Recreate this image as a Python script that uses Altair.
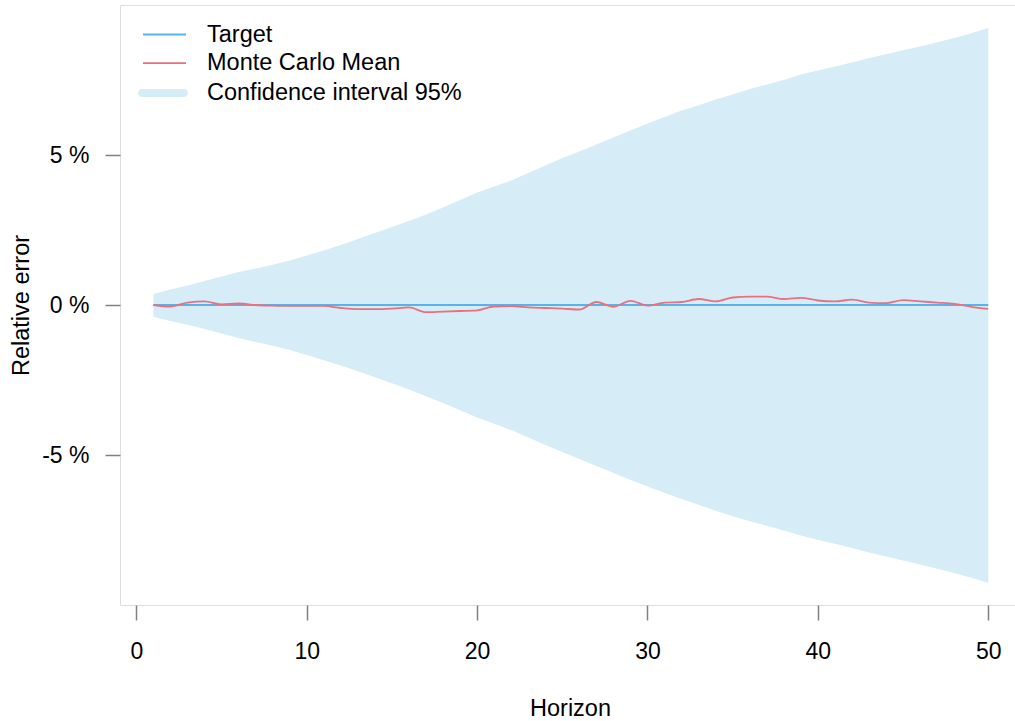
import altair as alt
import pandas as pd

horizon = list(range(1, 51))

upper = [0.37, 0.52, 0.65, 0.80, 0.95, 1.10, 1.22, 1.34, 1.48, 1.65,
         1.82, 2.00, 2.20, 2.40, 2.60, 2.80, 3.02, 3.25, 3.50, 3.75,
         3.95, 4.15, 4.40, 4.65, 4.90, 5.12, 5.35, 5.58, 5.82, 6.05,
         6.27, 6.48, 6.66, 6.85, 7.02, 7.20, 7.35, 7.50, 7.68, 7.82,
         7.95, 8.08, 8.23, 8.36, 8.49, 8.62, 8.76, 8.90, 9.06, 9.23]

lower = [-0.39, -0.53, -0.66, -0.80, -0.95, -1.10, -1.23, -1.36, -1.50, -1.67,
         -1.84, -2.02, -2.21, -2.41, -2.61, -2.82, -3.04, -3.27, -3.51, -3.75,
         -3.96, -4.17, -4.42, -4.67, -4.90, -5.13, -5.37, -5.60, -5.83, -6.05,
         -6.26, -6.47, -6.66, -6.86, -7.04, -7.21, -7.36, -7.52, -7.68, -7.83,
         -7.96, -8.10, -8.25, -8.38, -8.52, -8.65, -8.79, -8.93, -9.09, -9.26]

mc_mean = [0.00, -0.05, 0.08, 0.12, 0.02, 0.05, 0.00, -0.02, -0.03, -0.03,
           -0.03, -0.10, -0.14, -0.14, -0.12, -0.08, -0.24, -0.22, -0.20, -0.18,
           -0.05, -0.04, -0.08, -0.10, -0.12, -0.15, 0.10, -0.06, 0.14, -0.02,
           0.08, 0.10, 0.20, 0.12, 0.25, 0.28, 0.28, 0.20, 0.24, 0.15,
           0.12, 0.18, 0.08, 0.06, 0.16, 0.12, 0.08, 0.04, -0.06, -0.13]

target = [0.0] * 50

target_name, target_color = "Target", "#56B4E9"
mean_name, mean_color = "Monte Carlo Mean", "#EB6F7F"
band_name, band_color = "Confidence interval 95%", "#D6EDF7"

band_df = pd.DataFrame({"h": horizon, "lo": lower, "hi": upper, "series": band_name})
target_df = pd.DataFrame({"h": horizon, "v": target, "series": target_name})
mean_df = pd.DataFrame({"h": horizon, "v": mc_mean, "series": mean_name})

FONT = "Liberation Sans"
GRAY = "#808080"
TICK_FS = 23
TEXT_FS = 23.5

xscale = alt.Scale(domain=[-0.96, 51.57], nice=False, zero=False)
yscale = alt.Scale(domain=[-10, 10], nice=False, zero=False)

xaxis = alt.Axis(values=[0, 10, 20, 30, 40, 50], title="Horizon", grid=False,
                 domain=False, tickColor=GRAY, tickWidth=1.5, tickSize=15,
                 labelPadding=20, labelFont=FONT, labelFontSize=TICK_FS,
                 labelColor="black", titleFont=FONT, titleFontSize=TEXT_FS,
                 titleFontWeight="normal", titleColor="black",
                 titleX=450, titleY=103, titleBaseline="middle", titleAlign="center")
yaxis = alt.Axis(values=[-5, 0, 5], labelExpr="datum.value + ' %'",
                 title="Relative error", grid=False, domain=False,
                 tickColor=GRAY, tickWidth=1.5, tickSize=15, labelPadding=16,
                 labelFont=FONT, labelFontSize=TICK_FS, labelColor="black",
                 titleFont=FONT, titleFontSize=TEXT_FS, titleFontWeight="normal",
                 titleColor="black", titleX=-99, titleY=300, titleAngle=270,
                 titleBaseline="middle", titleAlign="center")


def line_legend(y):
    return alt.Legend(
        orient="none", legendX=22, legendY=y, title=None, padding=0,
        symbolType="stroke", symbolSize=1849, symbolStrokeWidth=1.8,
        labelFont=FONT, labelFontSize=TEXT_FS, labelColor="black", labelLimit=400,
        labelOffset=20,
    )


capsule = ("M-0.84,-0.16H0.84A0.16,0.16,0,0,1,0.84,0.16"
           "H-0.84A0.16,0.16,0,0,1,-0.84,-0.16Z")
band_legend = alt.Legend(
    orient="none", legendX=18, legendY=63, title=None, padding=0,
    symbolType=capsule, symbolSize=2500, symbolStrokeWidth=0,
    symbolOpacity=1,
    labelFont=FONT, labelFontSize=TEXT_FS, labelColor="black", labelLimit=400,
    labelOffset=19,
)

band = alt.Chart(band_df).mark_area(opacity=1).encode(
    x=alt.X("h:Q", scale=xscale, axis=xaxis),
    y=alt.Y("lo:Q", scale=yscale, axis=yaxis),
    y2="hi:Q",
    fill=alt.Fill("series:N", scale=alt.Scale(domain=[band_name], range=[band_color]),
                  legend=band_legend),
)

target_line = alt.Chart(target_df).mark_line(strokeWidth=1.8).encode(
    x="h:Q", y="v:Q",
    color=alt.Color("series:N", scale=alt.Scale(domain=[target_name], range=[target_color]),
                    legend=line_legend(7)),
)

mean_line = alt.Chart(mean_df).mark_line(interpolate="monotone", strokeWidth=1.8).encode(
    x="h:Q", y="v:Q",
    stroke=alt.Stroke("series:N", scale=alt.Scale(domain=[mean_name], range=[mean_color]),
                      legend=line_legend(35.7)),
)

chart = alt.layer(band, target_line, mean_line).properties(
    width=895, height=600,
    padding={"left": 120, "top": 5, "right": 0, "bottom": 116},
    autosize="none",
).configure_view(stroke=GRAY, strokeWidth=1.5).configure(background="white")

chart.save("out.html", embed_options={"renderer": "svg", "actions": False})
